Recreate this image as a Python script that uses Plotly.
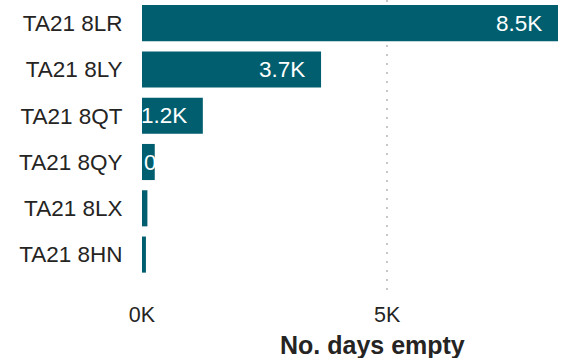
import plotly.graph_objects as go

categories = ["TA21 8LR", "TA21 8LY", "TA21 8QT", "TA21 8QY", "TA21 8LX", "TA21 8HN"]
days_empty = [8480, 3650, 1240, 260, 110, 80]
# visible (clipped) data labels as they appear in the reference
shown_labels = ["8.5K", "3.7K", "1.2K", "0", "", ""]
tick_vals = [0, 5000]
tick_text = ["0K", "5K"]

BAR = "#005E6E"
TXT = "#252423"
FONT = "Liberation Sans, Arial, sans-serif"

fig = go.Figure()
fig.add_trace(go.Bar(
    x=days_empty, y=categories, orientation="h",
    marker=dict(color=BAR, line=dict(width=0)),
    width=0.78, hoverinfo="skip",
))

for cat, val, lab in zip(categories, days_empty, shown_labels):
    if not lab:
        continue
    if val >= 1000:
        fig.add_annotation(x=val, y=cat, text=lab, showarrow=False,
                           xanchor="right", xshift=-14,
                           font=dict(family=FONT, size=22.5, color="white"))
    else:
        fig.add_annotation(x=0, y=cat, text=lab, showarrow=False,
                           xanchor="left", xshift=0,
                           font=dict(family=FONT, size=22.5, color="white"))

fig.add_annotation(xref="paper", yref="paper", x=0.555, y=-0.178,
                   text="<b>No. days empty</b>", showarrow=False,
                   xanchor="center", yanchor="middle",
                   font=dict(family=FONT, size=25, color=TXT))

fig.update_layout(
    width=579, height=358,
    margin=dict(l=142, r=21, t=0, b=65),
    paper_bgcolor="white", plot_bgcolor="white",
    showlegend=False,
    xaxis=dict(range=[0, 8480], tickvals=tick_vals, ticktext=tick_text,
               showgrid=True, gridcolor="#C8C8C8", griddash="2px,7px", gridwidth=2,
               zeroline=False, showline=False,
               ticks="outside", ticklen=2, tickcolor="rgba(0,0,0,0)",
               tickfont=dict(family=FONT, size=21.5, color=TXT)),
    yaxis=dict(categoryorder="array", categoryarray=categories,
               range=[5.83, -0.5], showgrid=False, zeroline=False, showline=False,
               ticks="outside", ticklen=14, tickcolor="rgba(0,0,0,0)",
               tickfont=dict(family=FONT, size=22.5, color=TXT)),
)

fig.write_html("out.html")
